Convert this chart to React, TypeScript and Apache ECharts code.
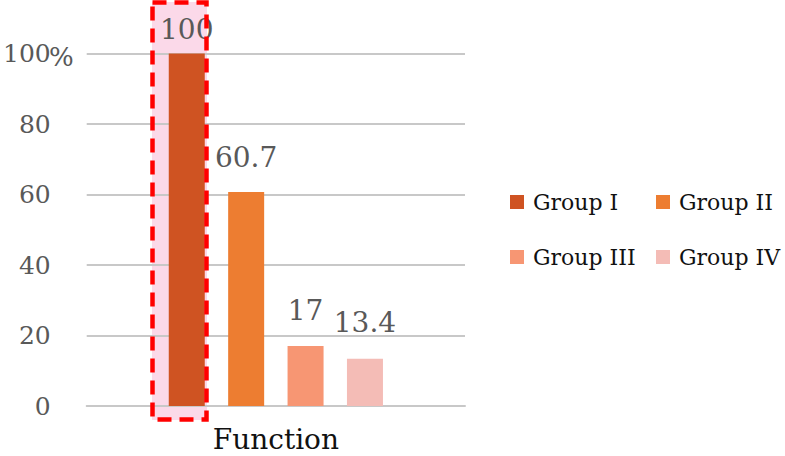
import React, { useEffect, useRef } from "react";
import * as echarts from "echarts";

const categories = ["Function"];
const groupNames = ["Group I", "Group II", "Group III", "Group IV"];
const groupValues = [100, 60.7, 17, 13.4];
const groupColors = ["#CF5322", "#ED7D31", "#F79673", "#F4BCB6"];
const labelDistances = [10, 21, 22, 22];
const yTicks = [0, 20, 40, 60, 80, 100];

const FONT = "DejaVu Serif";

export default function App() {
  const ref = useRef<HTMLDivElement>(null);
  useEffect(() => {
    if (!ref.current) return;
    const chart = echarts.init(ref.current, undefined, { renderer: "svg" });
    const legendPos = [
      { left: 510, top: 191 },
      { left: 656, top: 191 },
      { left: 510, top: 246 },
      { left: 656, top: 246 },
    ];
    chart.setOption({
      animation: false,
      backgroundColor: "#ffffff",
      grid: { left: 83, right: 320, top: 53.5, bottom: 50, containLabel: false },
      legend: groupNames.map((n, i) => ({
        data: [n],
        left: legendPos[i].left,
        top: legendPos[i].top,
        padding: 0,
        icon: "rect",
        itemWidth: 14,
        itemHeight: 14,
        itemGap: 10,
        textStyle: { fontFamily: FONT, fontSize: 22, color: "#111", padding: [0, 0, 0, 4] },
      })),
      xAxis: {
        type: "category",
        data: categories,
        axisLine: { show: true, lineStyle: { color: "#C8C8C8", width: 2 } },
        axisTick: { show: false },
        axisLabel: { fontFamily: FONT, fontSize: 28, lineHeight: 28, color: "#111", margin: 19 },
      },
      yAxis: {
        type: "value",
        min: yTicks[0],
        max: yTicks[yTicks.length - 1],
        interval: 20,
        axisLine: { show: false },
        axisTick: { show: false },
        splitLine: { lineStyle: { color: "#C8C8C8", width: 2 } },
        axisLabel: {
          fontFamily: FONT,
          fontSize: 25,
          color: "#595959",
          margin: 36,
        },
      },
      graphic: [
        {
          type: "rect",
          z: -1,
          shape: { x: 152, y: 2, width: 55, height: 418 },
          style: { fill: "rgba(240,120,175,0.28)" },
        },
        {
          type: "rect",
          z: 100,
          shape: { x: 152.5, y: 2.5, width: 54, height: 417 },
          style: { fill: "none", stroke: "#FF0000", lineWidth: 4.5, lineDash: [14, 8] },
        },
        {
          type: "text",
          z: 100,
          x: 49,
          y: 57,
          style: {
            text: "%",
            fontFamily: FONT,
            fontSize: 26,
            fill: "#595959",
            verticalAlign: "middle",
            align: "left",
          },
        },
      ],
      series: groupNames.map((n, i) => ({
        name: n,
        type: "bar",
        data: [groupValues[i]],
        barWidth: 36,
        barGap: "65%",
        itemStyle: { color: groupColors[i] },
        label: {
          show: true,
          position: "top",
          distance: labelDistances[i],
          fontFamily: FONT,
          fontSize: 28,
          color: "#595959",
        },
      })),
    });
    return () => chart.dispose();
  }, []);
  return (
    <div
      ref={ref}
      style={{ position: "fixed", left: 0, top: 0, width: 785, height: 456 }}
    />
  );
}
